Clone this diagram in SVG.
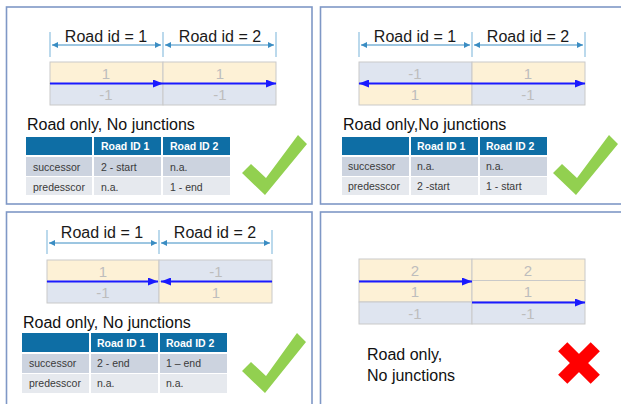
<svg xmlns="http://www.w3.org/2000/svg" width="621" height="404" viewBox="0 0 621 404">
  <style>
    .panel { fill: #ffffff; stroke: #7f98c6; stroke-width: 1.6; }
    .dim { stroke: #3a8dc3; stroke-width: 1; fill: none; }
    .tick { stroke: #8ec0e0; stroke-width: 1.2; }
    .dimtxt { font-family: "Liberation Sans", Arial, sans-serif; font-size: 16px; fill: #1a1a1a; text-anchor: middle; }
    .yel { fill: #fdf1d6; stroke: #c9c9c9; stroke-width: 1; }
    .blu { fill: #dfe5f0; stroke: #c9c9c9; stroke-width: 1; }
    .lane { font-family: "Liberation Sans", Arial, sans-serif; font-size: 15px; fill: #bdbdbd; text-anchor: middle; }
    .road { stroke: #1a1aff; stroke-width: 2; fill: none; }
    .title { font-family: "Liberation Sans", Arial, sans-serif; font-size: 16px; fill: #111111; }
    .hdr { fill: #0e6ea5; }
    .r1 { fill: #ccd3df; }
    .r2 { fill: #e6e9ee; }
    .hdrtxt { font-family: "Liberation Sans", Arial, sans-serif; font-size: 10.5px; font-weight: bold; fill: #ffffff; }
    .cell { font-family: "Liberation Sans", Arial, sans-serif; font-size: 10.5px; fill: #3a3a3a; }
    .ok { fill: #92d050; }
    .bad { fill: #ff0000; }
  </style>
  <defs>
    <marker id="dimEnd" viewBox="0 0 6 6" refX="6" refY="3" markerWidth="6" markerHeight="6" markerUnits="userSpaceOnUse" orient="auto-start-reverse">
      <path d="M0,0 L6,3 L0,6 Z" fill="#3a8dc3"/>
    </marker>
    <marker id="roadEnd" viewBox="0 0 10 8" refX="10" refY="4" markerWidth="10" markerHeight="8" markerUnits="userSpaceOnUse" orient="auto-start-reverse">
      <path d="M0,0 L10,4 L0,8 Z" fill="#1a1aff"/>
    </marker>
  </defs>

  <!-- Panel: two roads, same direction -->
  <g id="panel-same-direction">
    <rect class="panel" x="6.5" y="7" width="305.5" height="197"/>
    <g id="dim-tl">
      <line class="tick" x1="50" y1="32" x2="50" y2="57"/>
      <line class="tick" x1="163" y1="32" x2="163" y2="57"/>
      <line class="tick" x1="276" y1="32" x2="276" y2="57"/>
      <line class="dim" x1="52" y1="45" x2="161" y2="45" marker-start="url(#dimEnd)" marker-end="url(#dimEnd)"/>
      <line class="dim" x1="165" y1="45" x2="274" y2="45" marker-start="url(#dimEnd)" marker-end="url(#dimEnd)"/>
      <text class="dimtxt" x="106" y="42">Road id = 1</text>
      <text class="dimtxt" x="220" y="42">Road id = 2</text>
    </g>
    <g id="lanes-tl">
      <rect class="yel" x="50" y="62" width="113" height="21.5"/>
      <rect class="blu" x="50" y="83.5" width="113" height="21.5"/>
      <rect class="yel" x="163" y="62" width="113" height="21.5"/>
      <rect class="blu" x="163" y="83.5" width="113" height="21.5"/>
      <text class="lane" x="106" y="79">1</text>
      <text class="lane" x="106" y="100">-1</text>
      <text class="lane" x="220" y="79">1</text>
      <text class="lane" x="220" y="100">-1</text>
    </g>
    <text class="title" x="27" y="130">Road only, No junctions</text>
    <g id="table-tl">
      <rect class="hdr" x="26" y="137" width="66" height="18"/>
      <rect class="hdr" x="94" y="137" width="67" height="18"/>
      <rect class="hdr" x="163" y="137" width="67" height="18"/>
      <rect class="r1" x="26" y="157" width="66" height="19"/>
      <rect class="r1" x="94" y="157" width="67" height="19"/>
      <rect class="r1" x="163" y="157" width="67" height="19"/>
      <rect class="r2" x="26" y="177" width="66" height="18"/>
      <rect class="r2" x="94" y="177" width="67" height="18"/>
      <rect class="r2" x="163" y="177" width="67" height="18"/>
      <text class="hdrtxt" x="101" y="150">Road ID 1</text>
      <text class="hdrtxt" x="170" y="150">Road ID 2</text>
      <text class="cell" x="33" y="171">successor</text>
      <text class="cell" x="101" y="171">2 - start</text>
      <text class="cell" x="170" y="171">n.a.</text>
      <text class="cell" x="33" y="191">predesscor</text>
      <text class="cell" x="101" y="191">n.a.</text>
      <text class="cell" x="170" y="191">1 - end</text>
    </g>
    <polygon class="ok" points="242,173 251,164 266,178 298,135 307,144 265,195"/>
  </g>

  <!-- Panel: roads meeting at their starts -->
  <g id="panel-start-start">
    <rect class="panel" x="320.5" y="7" width="310" height="197"/>
    <g id="dim-tr">
      <line class="tick" x1="359" y1="32" x2="359" y2="57"/>
      <line class="tick" x1="472" y1="32" x2="472" y2="57"/>
      <line class="tick" x1="585" y1="32" x2="585" y2="57"/>
      <line class="dim" x1="361" y1="45" x2="470" y2="45" marker-start="url(#dimEnd)" marker-end="url(#dimEnd)"/>
      <line class="dim" x1="474" y1="45" x2="583" y2="45" marker-start="url(#dimEnd)" marker-end="url(#dimEnd)"/>
      <text class="dimtxt" x="415" y="42">Road id = 1</text>
      <text class="dimtxt" x="528" y="42">Road id = 2</text>
    </g>
    <g id="lanes-tr">
      <rect class="blu" x="359" y="62" width="113" height="21.5"/>
      <rect class="yel" x="359" y="83.5" width="113" height="21.5"/>
      <rect class="yel" x="472" y="62" width="113" height="21.5"/>
      <rect class="blu" x="472" y="83.5" width="113" height="21.5"/>
      <text class="lane" x="415" y="79">-1</text>
      <text class="lane" x="415" y="100">1</text>
      <text class="lane" x="528" y="79">1</text>
      <text class="lane" x="528" y="100">-1</text>
    </g>
    <text class="title" x="343" y="130">Road only,No junctions</text>
    <g id="table-tr">
      <rect class="hdr" x="342" y="137" width="67" height="18"/>
      <rect class="hdr" x="411" y="137" width="67" height="18"/>
      <rect class="hdr" x="480" y="137" width="67" height="18"/>
      <rect class="r1" x="342" y="157" width="67" height="19"/>
      <rect class="r1" x="411" y="157" width="67" height="19"/>
      <rect class="r1" x="480" y="157" width="67" height="19"/>
      <rect class="r2" x="342" y="177" width="67" height="18"/>
      <rect class="r2" x="411" y="177" width="67" height="18"/>
      <rect class="r2" x="480" y="177" width="67" height="18"/>
      <text class="hdrtxt" x="417" y="150">Road ID 1</text>
      <text class="hdrtxt" x="486" y="150">Road ID 2</text>
      <text class="cell" x="348" y="170">successor</text>
      <text class="cell" x="417" y="170">n.a.</text>
      <text class="cell" x="486" y="170">n.a.</text>
      <text class="cell" x="348" y="190">predesscor</text>
      <text class="cell" x="417" y="190">2 -start</text>
      <text class="cell" x="486" y="190">1 - start</text>
    </g>
    <polygon class="ok" points="553,173 562,164 577,178 609,135 618,144 576,195"/>
  </g>

  <!-- Panel: roads meeting at their ends -->
  <g id="panel-end-end">
    <rect class="panel" x="6.5" y="212" width="305.5" height="200"/>
    <g id="dim-bl">
      <line class="tick" x1="47" y1="230" x2="47" y2="254"/>
      <line class="tick" x1="159" y1="230" x2="159" y2="254"/>
      <line class="tick" x1="272" y1="230" x2="272" y2="254"/>
      <line class="dim" x1="49" y1="243" x2="157" y2="243" marker-start="url(#dimEnd)" marker-end="url(#dimEnd)"/>
      <line class="dim" x1="161" y1="243" x2="270" y2="243" marker-start="url(#dimEnd)" marker-end="url(#dimEnd)"/>
      <text class="dimtxt" x="102" y="238">Road id = 1</text>
      <text class="dimtxt" x="215" y="238">Road id = 2</text>
    </g>
    <g id="lanes-bl">
      <rect class="yel" x="47" y="260" width="112" height="21.5"/>
      <rect class="blu" x="47" y="281.5" width="112" height="21.5"/>
      <rect class="blu" x="159" y="260" width="113" height="21.5"/>
      <rect class="yel" x="159" y="281.5" width="113" height="21.5"/>
      <text class="lane" x="103" y="277">1</text>
      <text class="lane" x="103" y="298">-1</text>
      <text class="lane" x="216" y="277">-1</text>
      <text class="lane" x="216" y="298">1</text>
    </g>
    <text class="title" x="23" y="328">Road only, No junctions</text>
    <g id="table-bl">
      <rect class="hdr" x="22" y="333" width="67" height="19"/>
      <rect class="hdr" x="91" y="333" width="67" height="19"/>
      <rect class="hdr" x="160" y="333" width="67" height="19"/>
      <rect class="r1" x="22" y="354" width="67" height="19"/>
      <rect class="r1" x="91" y="354" width="67" height="19"/>
      <rect class="r1" x="160" y="354" width="67" height="19"/>
      <rect class="r2" x="22" y="374" width="67" height="19"/>
      <rect class="r2" x="91" y="374" width="67" height="19"/>
      <rect class="r2" x="160" y="374" width="67" height="19"/>
      <text class="hdrtxt" x="97" y="347">Road ID 1</text>
      <text class="hdrtxt" x="166" y="347">Road ID 2</text>
      <text class="cell" x="29" y="367">successor</text>
      <text class="cell" x="97" y="367">2 - end</text>
      <text class="cell" x="166" y="367">1 – end</text>
      <text class="cell" x="29" y="387">predesscor</text>
      <text class="cell" x="97" y="387">n.a.</text>
      <text class="cell" x="166" y="387">n.a.</text>
    </g>
    <polygon class="ok" points="242,371 251,362 266,376 297,333 306,342 265,393"/>
  </g>

  <!-- Panel: lane offset between roads (invalid) -->
  <g id="panel-invalid">
    <rect class="panel" x="320.5" y="212" width="310" height="200"/>
    <g id="lanes-br">
      <rect class="yel" x="359" y="259" width="113" height="21.5"/>
      <rect class="yel" x="359" y="280.5" width="113" height="21.5"/>
      <rect class="blu" x="359" y="302" width="113" height="22"/>
      <rect class="yel" x="472" y="259" width="113" height="21.5"/>
      <rect class="yel" x="472" y="280.5" width="113" height="21.5"/>
      <rect class="blu" x="472" y="302" width="113" height="22"/>
      <text class="lane" x="415" y="276">2</text>
      <text class="lane" x="415" y="297">1</text>
      <text class="lane" x="415" y="319">-1</text>
      <text class="lane" x="528" y="276">2</text>
      <text class="lane" x="528" y="297">1</text>
      <text class="lane" x="528" y="319">-1</text>
    </g>
    <text class="title" x="367" y="360">Road only,</text>
    <text class="title" x="367" y="381">No junctions</text>
    <g class="bad" transform="translate(579,363) rotate(45)">
      <rect x="-23" y="-6.5" width="46" height="13"/>
      <rect x="-6.5" y="-23" width="13" height="46"/>
    </g>
  </g>

  <!-- Reference lines along the roads -->
  <g id="connectors">
    <line class="road" x1="50" y1="83.5" x2="163" y2="83.5" marker-end="url(#roadEnd)"/>
    <line class="road" x1="163" y1="83.5" x2="276" y2="83.5" marker-end="url(#roadEnd)"/>
    <line class="road" x1="359" y1="83.5" x2="585" y2="83.5" marker-start="url(#roadEnd)" marker-end="url(#roadEnd)"/>
    <line class="road" x1="47" y1="281.5" x2="158" y2="281.5" marker-end="url(#roadEnd)"/>
    <line class="road" x1="272" y1="281.5" x2="161" y2="281.5" marker-end="url(#roadEnd)"/>
    <line class="road" x1="359" y1="281.5" x2="472" y2="281.5" marker-end="url(#roadEnd)"/>
    <line class="road" x1="472" y1="302.5" x2="585" y2="302.5" marker-end="url(#roadEnd)"/>
  </g>
</svg>
